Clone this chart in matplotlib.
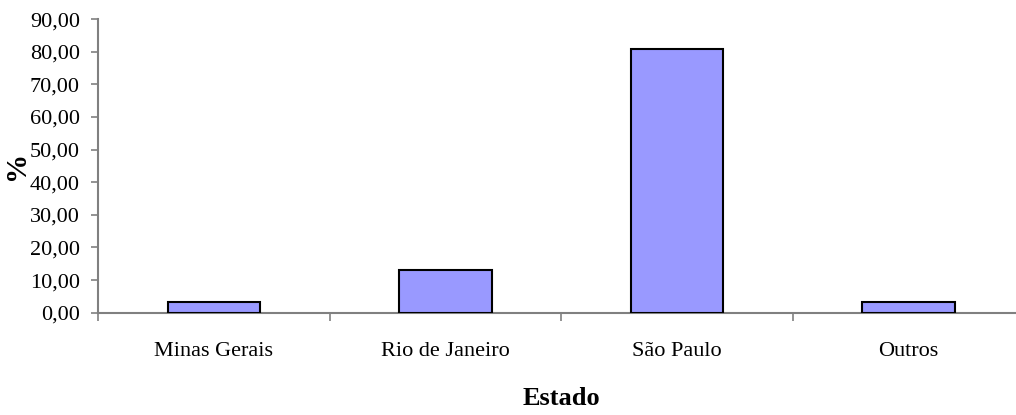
import matplotlib
matplotlib.use('Agg')
from matplotlib import pyplot as plt
from matplotlib.ticker import FuncFormatter, FixedLocator
import numpy as np

estados = ['Minas Gerais', 'Rio de Janeiro', 'São Paulo', 'Outros']
percentual = [3.4, 13.1, 80.7, 3.4]

plt.rcParams['font.family'] = 'Liberation Serif'

fig = plt.figure(figsize=(10.16, 4.15), dpi=100)
ax = fig.add_axes([0.0965, 0.2465, 0.9115, 0.7075])

x = np.arange(len(estados))
ax.bar(x, percentual, width=0.4, color='#9999FF', edgecolor='black', linewidth=1.5, zorder=3)

ax.set_xlim(-0.5, len(estados) - 0.5)
ax.set_ylim(0, 90)
ax.set_yticks(np.arange(0, 91, 10))
ax.yaxis.set_major_formatter(FuncFormatter(lambda v, p: f'{v:.2f}'.replace('.', ',')))

# category labels centred, tick marks between categories
ax.set_xticks(x)
ax.set_xticklabels(estados)
ax.xaxis.set_minor_locator(FixedLocator(np.arange(-0.5, len(estados), 1.0)))
ax.tick_params(axis='x', which='major', length=0, pad=21, labelsize=16)
ax.tick_params(axis='x', which='minor', length=6, width=1.2, color='#808080', direction='out')
ax.tick_params(axis='y', length=5, width=1.2, color='#808080', pad=8, labelsize=16)

for side in ['top', 'right']:
    ax.spines[side].set_visible(False)
for side in ['left', 'bottom']:
    ax.spines[side].set_color('#808080')
    ax.spines[side].set_linewidth(1.5)

ax.set_xlabel('Estado', fontsize=19, fontweight='bold', labelpad=19)
ax.set_ylabel('%', fontsize=21, fontweight='bold', labelpad=0)

fig.savefig('out.png', dpi=100)
